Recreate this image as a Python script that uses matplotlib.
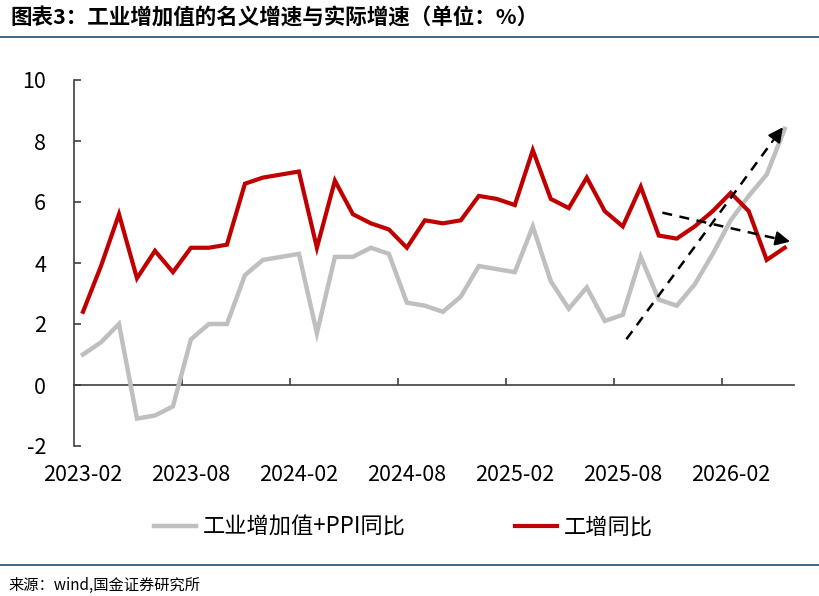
import numpy as np
import pandas as pd
import matplotlib
matplotlib.use("Agg")
import matplotlib.pyplot as plt
from matplotlib.lines import Line2D

plt.rcParams['font.family'] = ['Noto Sans CJK SC', 'DejaVu Sans']

# monthly data, 2023-02 .. 2026-05
months = pd.period_range('2023-02', '2026-05', freq='M')
nominal = [1.0, 1.4, 2.0, -1.1, -1.0, -0.7, 1.5, 2.0, 2.0, 3.6,
           4.1, 4.2, 4.3, 1.7, 4.2, 4.2, 4.5, 4.3, 2.7, 2.6,
           2.4, 2.9, 3.9, 3.8, 3.7, 5.2, 3.4, 2.5, 3.2, 2.1,
           2.3, 4.2, 2.8, 2.6, 3.3, 4.3, 5.4, 6.2, 6.9, 8.4]
real = [2.4, 3.9, 5.6, 3.5, 4.4, 3.7, 4.5, 4.5, 4.6, 6.6,
        6.8, 6.9, 7.0, 4.5, 6.7, 5.6, 5.3, 5.1, 4.5, 5.4,
        5.3, 5.4, 6.2, 6.1, 5.9, 7.7, 6.1, 5.8, 6.8, 5.7,
        5.2, 6.5, 4.9, 4.8, 5.2, 5.7, 6.3, 5.7, 4.1, 4.5]
series_names = ['工业增加值+PPI同比', '工增同比']
y_ticks = [-2, 0, 2, 4, 6, 8, 10]

# trend arrows (start, end) in month-index / value units
arrow_up = [(30.2, 1.5), (38.9, 8.45)]
arrow_down = [(32.2, 5.65), (39.3, 4.7)]

title = '图表3：工业增加值的名义增速与实际增速（单位：%）'
source = '来源：wind,国金证券研究所'

RED = '#c00000'
GRAY = '#bfbfbf'
RULE = '#1f4e6e'


def draw_arrow(ax, start, end):
    (x0, y0), (x1, y1) = start, end
    # dashed shaft, solid head
    fx = x0 + (x1 - x0) * 0.93
    fy = y0 + (y1 - y0) * 0.93
    ax.plot([x0, fx], [y0, fy], color='black', lw=1.8, ls=(0, (4, 3)), zorder=5)
    ax.annotate('', xy=(x1, y1), xytext=(fx, fy),
                arrowprops=dict(arrowstyle='-|>', color='black', lw=1.5,
                                mutation_scale=22, shrinkA=0, shrinkB=0),
                zorder=5)


def main():
    fig = plt.figure(figsize=(8.2, 5.96), dpi=100)
    ax = fig.add_axes([74 / 820, 1 - 446 / 596, (793.7 - 74) / 820, (446 - 80) / 596])

    x = np.arange(len(months))
    l1, = ax.plot(x, nominal, color=GRAY, lw=3.2, solid_joinstyle='miter', zorder=3)
    l2, = ax.plot(x, real, color=RED, lw=3.0, solid_joinstyle='miter', zorder=4)

    draw_arrow(ax, *arrow_up)
    draw_arrow(ax, *arrow_down)

    ax.set_xlim(-0.5, len(months) - 0.5)
    ax.set_ylim(-2, 10)
    ax.set_yticks(y_ticks)
    ax.set_yticklabels([str(v) for v in y_ticks])

    major = list(range(0, len(months), 6))
    ax.set_xticks(major)
    ax.set_xticklabels([months[i].strftime('%Y-%m') for i in major])
    ax.set_xticks([i - 0.5 for i in major[1:]], minor=True)

    for s in ['top', 'right']:
        ax.spines[s].set_visible(False)
    ax.spines['bottom'].set_position(('data', 0))
    ax.spines['bottom'].set_color('#404040')
    ax.spines['left'].set_color('#404040')
    ax.spines['bottom'].set_linewidth(1.2)
    ax.spines['left'].set_linewidth(1.2)

    ax.tick_params(axis='x', which='major', length=0, pad=57, labelsize=15.5)
    ax.tick_params(axis='x', which='minor', direction='in', length=5,
                   width=1.2, color='#404040')
    ax.tick_params(axis='y', direction='in', length=5, width=1.2,
                   color='#404040', pad=20, labelsize=15.5)

    fig.legend([l1, l2], series_names, loc='center', ncol=2,
               bbox_to_anchor=(0.492, 1 - 527 / 596), frameon=False,
               fontsize=16, handlelength=1.9, handletextpad=0.3,
               columnspacing=4.9)

    fig.text(10 / 820, 1 - 18 / 596, title, fontsize=15.5, fontweight='bold',
             ha='left', va='center')
    fig.text(8 / 820, 1 - 585 / 596, source, fontsize=11,
             ha='left', va='center')

    fig.add_artist(Line2D([0, 1], [1 - 37 / 596] * 2, color=RULE, lw=1.2))
    fig.add_artist(Line2D([0, 1], [1 - 565 / 596] * 2, color=RULE, lw=1.2))

    fig.savefig('out.png', dpi=100)
    plt.close(fig)


if __name__ == "__main__":
    main()
